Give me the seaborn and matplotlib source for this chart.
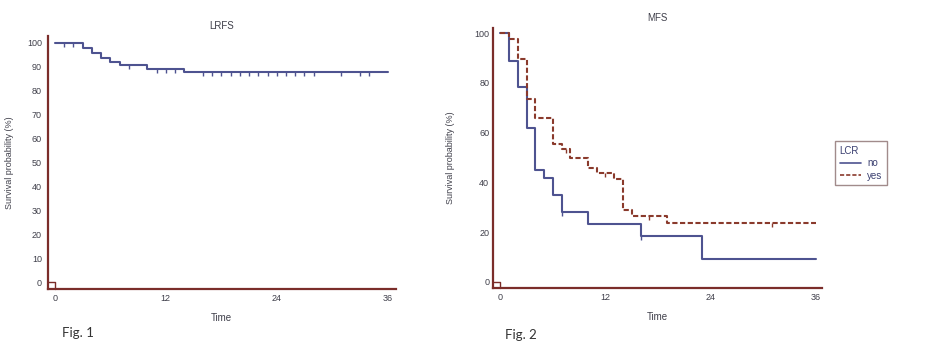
import numpy as np
import pandas as pd
import matplotlib
matplotlib.use("Agg")
import matplotlib.pyplot as plt
import seaborn as sns
from matplotlib.lines import Line2D
from matplotlib.ticker import MultipleLocator

# ---------------- data ----------------
lrfs_time = [0, 3, 4, 5, 6, 7, 10, 14, 36]
lrfs_surv = [100, 97.8, 95.7, 93.9, 92.1, 90.6, 89.3, 87.8, 87.8]
lrfs_censor = [1, 2, 8, 11, 12, 13, 16, 17, 18, 19, 20, 21, 22, 23, 24, 25, 26, 27, 28, 31, 33, 34]

mfs_no_time = [0, 1, 2, 3, 4, 5, 6, 7, 10, 16, 23, 36]
mfs_no_surv = [100, 89.0, 78.5, 62.0, 44.8, 41.8, 35.1, 28.0, 23.2, 18.5, 9.1, 9.1]
mfs_no_censor = [7, 16]

mfs_yes_time = [0, 1, 2, 3, 4, 6, 7, 8, 10, 11, 13, 14, 15, 19, 36]
mfs_yes_surv = [100, 97.7, 89.6, 73.4, 65.7, 55.6, 53.5, 49.8, 45.7, 43.9, 41.3, 28.8, 26.4, 23.6, 23.6]
mfs_yes_censor = [7.5, 12, 17, 31]

x_ticks = [0, 12, 24, 36]
legend_title = "LCR"
legend_labels = ["no", "yes"]

# ---------------- style ----------------
sns.set_style("white")
plt.rcParams["font.family"] = ["Liberation Sans", "DejaVu Sans"]

SPINE = "#7b2d2a"
BLUE = "#4e5390"
RED = "#8a3a2c"
TXT = "#3f3f4a"

fig = plt.figure(figsize=(9.36, 3.56), dpi=100)
W, H = 936, 356


def add_axes(l, r, b, t):
    return fig.add_axes([l / W, 1 - b / H, (r - l) / W, (b - t) / H])


ax1 = add_axes(47.5, 396, 289, 36)
ax2 = add_axes(493.3, 821.7, 288.3, 27.7)


def km_frame(t, s):
    return pd.DataFrame({"time": t, "surv": s})


def censor_y(t, s, c):
    idx = np.searchsorted(np.asarray(t), np.asarray(c), side="right") - 1
    return np.asarray(s)[idx]


def style_axis(ax, xlim, ylim, ymaj, ymin, ypad):
    ax.set_xlim(*xlim)
    ax.set_ylim(*ylim)
    for s in ["top", "right"]:
        ax.spines[s].set_visible(False)
    for s in ["left", "bottom"]:
        ax.spines[s].set_color(SPINE)
        ax.spines[s].set_linewidth(1.6)
    ax.set_xticks(x_ticks)
    ax.xaxis.set_minor_locator(MultipleLocator(6))
    ax.yaxis.set_major_locator(MultipleLocator(ymaj))
    ax.yaxis.set_minor_locator(MultipleLocator(ymin))
    ax.tick_params(axis="both", which="major", direction="in", length=4, width=1,
                   color=SPINE, labelsize=6.5, labelcolor=TXT)
    ax.tick_params(axis="both", which="minor", direction="in", length=2.5, width=1,
                   color=SPINE)
    ax.tick_params(axis="x", which="major", pad=3.5)
    ax.tick_params(axis="y", which="major", pad=ypad)
    # small origin bracket
    ax.plot([xlim[0], 0, 0], [0, 0, ylim[0]], color=SPINE, lw=1.0, clip_on=False)


# ---------------- LRFS ----------------
sns.lineplot(data=km_frame(lrfs_time, lrfs_surv), x="time", y="surv", ax=ax1,
             drawstyle="steps-post", color=BLUE, lw=1.5, estimator=None)
ax1.plot(lrfs_censor, censor_y(lrfs_time, lrfs_surv, lrfs_censor), ls="none",
         marker=3, ms=3, mew=1, color=BLUE)
style_axis(ax1, (-0.8, 36.9), (-2.8, 102.9), 10, 5, 4)
ax1.set_title("LRFS", fontsize=7, color=TXT, pad=5)
ax1.set_xlabel("Time", fontsize=7, color=TXT)
ax1.set_ylabel("Survival probability (%)", fontsize=6.5, color=TXT)
ax1.xaxis.set_label_coords(0.5, -0.094)
ax1.yaxis.set_label_coords(-0.096, 0.5)

# ---------------- MFS ----------------
sns.lineplot(data=km_frame(mfs_no_time, mfs_no_surv), x="time", y="surv", ax=ax2,
             drawstyle="steps-post", color=BLUE, lw=1.5, estimator=None)
sns.lineplot(data=km_frame(mfs_yes_time, mfs_yes_surv), x="time", y="surv", ax=ax2,
             drawstyle="steps-post", color=RED, lw=1.5, estimator=None,
             linestyle=(0, (2.5, 1.2)))
ax2.plot(mfs_no_censor, censor_y(mfs_no_time, mfs_no_surv, mfs_no_censor), ls="none",
         marker=3, ms=3, mew=1, color=BLUE)
ax2.plot(mfs_yes_censor, censor_y(mfs_yes_time, mfs_yes_surv, mfs_yes_censor), ls="none",
         marker=3, ms=3, mew=1, color=RED)
style_axis(ax2, (-0.8, 36.68), (-2.66, 102.25), 20, 10, 3)
ax2.set_title("MFS", fontsize=7, color=TXT, pad=5)
ax2.set_xlabel("Time", fontsize=7, color=TXT)
ax2.set_ylabel("Survival probability (%)", fontsize=6.5, color=TXT)
ax2.xaxis.set_label_coords(0.5, -0.09)
ax2.yaxis.set_label_coords(-0.117, 0.5)

handles = [Line2D([], [], color=BLUE, lw=1.2),
           Line2D([], [], color=RED, lw=1.2, linestyle=(0, (2.5, 1.2)))]
leg = fig.legend(handles, legend_labels, title=legend_title, loc="upper left",
                 bbox_to_anchor=(830 / W, 1 - 136 / H), fontsize=7, title_fontsize=7,
                 alignment="left", fancybox=False, frameon=True, handlelength=2.2,
                 handletextpad=0.6, borderpad=0.5, labelspacing=0.25)
leg.get_frame().set_edgecolor("#8a6e6e")
leg.get_frame().set_linewidth(1.0)
for t in leg.get_texts():
    t.set_color("#3a3f70")
leg.get_title().set_color("#3a3f70")

fig.text(62 / W, 1 - 333 / H, "Fig. 1", fontsize=9.5, family="Lato", color="#333333",
         va="center", ha="left")
fig.text(505 / W, 1 - 335 / H, "Fig. 2", fontsize=9.5, family="Lato", color="#333333",
         va="center", ha="left")

fig.savefig("out.png", dpi=100, facecolor="white")
